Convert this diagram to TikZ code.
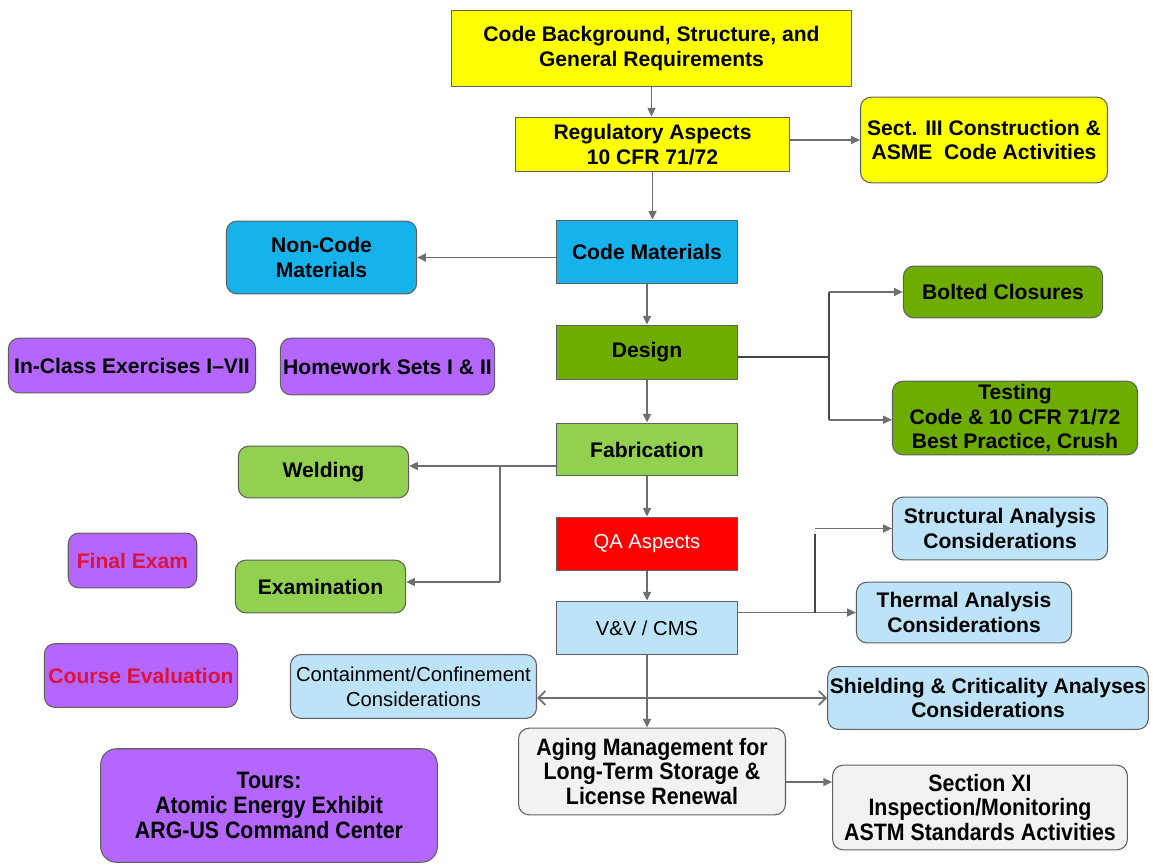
\documentclass[tikz,border=0pt]{standalone}
\usepackage{fontspec}
\setmainfont{Liberation Sans}
\newfontfamily\narrowfont[FakeStretch=0.9]{Liberation Sans}
\usetikzlibrary{arrows.meta}

\definecolor{boxline}{RGB}{95,95,95}
\definecolor{linkgray}{RGB}{110,110,110}
\definecolor{darkline}{RGB}{70,70,70}
\definecolor{codeyellow}{RGB}{255,255,0}
\definecolor{codecyan}{RGB}{22,178,236}
\definecolor{designgreen}{RGB}{110,172,0}
\definecolor{fabgreen}{RGB}{146,208,80}
\definecolor{qared}{RGB}{255,0,0}
\definecolor{analysisblue}{RGB}{189,227,248}
\definecolor{coursepurple}{RGB}{180,102,255}
\definecolor{agegray}{RGB}{242,242,242}
\definecolor{examred}{RGB}{220,20,60}

\begin{document}
\begin{tikzpicture}[
  x=0.02cm, y=-0.02cm,
  box/.style={draw=boxline, line width=0.6pt, align=center, inner sep=0pt,
    font=\bfseries\fontsize{12}{14}\selectfont},
  rbox/.style={box, rounded corners=6pt},
  sz/.style 2 args={minimum width=#1*0.5669pt, minimum height=#2*0.5669pt},
  thin/.style={font=\fontsize{11.5}{14}\selectfont},
  tall/.style={font=\narrowfont\bfseries\fontsize{13.5}{14}\selectfont},
  link/.style={draw=linkgray, line width=1pt, -{Triangle[length=5pt,width=4.5pt]}},
  branch/.style={draw=darkline, line width=1.5pt},
  twoway/.style={draw=linkgray, line width=1pt,
    {Straight Barb[length=4pt,width=8pt]}-{Straight Barb[length=4pt,width=8pt]}}
]
\useasboundingbox (0,0) rectangle (1153,865);

% Main column
\node[box, sz={401}{77}, fill=codeyellow] (CodeBg) at (651.5,48.5) {Code Background, Structure, and\\General Requirements};
\node[box, sz={275}{55}, fill=codeyellow] (Reg) at (652.5,144.5) {Regulatory Aspects\\10 CFR 71/72};
\node[box, sz={182}{64}, fill=codecyan] (CodeMat) at (647,252) {Code Materials};
\node[box, sz={182}{55}, fill=designgreen] (Design) at (647,352.5) {Design};
\node[box, sz={182}{53}, fill=fabgreen] (Fabrication) at (647,449.5) {Fabrication};
\node[box, thin, sz={182}{54}, fill=qared, text=white] (QA) at (647,544) {QA Aspects};
\node[box, thin, sz={182}{54}, fill=analysisblue] (VV) at (647,628) {V\&V / CMS};
\node[rbox, tall, sz={268}{87}, fill=agegray] (Aging) at (652,771.5) {Aging Management for\\Long-Term Storage \&\\License Renewal};

% Side topics
\node[rbox, sz={248}{86}, fill=codeyellow] (SectIII) at (984,140) {Sect. III Construction \&\\ASME\ \ Code Activities};
\node[rbox, sz={191}{73}, fill=codecyan] (NonCode) at (321.5,257.5) {Non-Code\\Materials};
\node[rbox, sz={200}{52}, fill=designgreen] (Bolted) at (1003,292) {Bolted Closures};
\node[rbox, sz={246}{74}, fill=designgreen] (Testing) at (1015,418) {Testing\\Code \& 10 CFR 71/72\\Best Practice, Crush};
\node[rbox, sz={171}{52}, fill=fabgreen] (Welding) at (323.5,472) {Welding};
\node[rbox, sz={171}{53}, fill=fabgreen] (Examination) at (320.5,586.5) {Examination};
\node[rbox, sz={216}{63}, fill=analysisblue] (Structural) at (1000,528.5) {Structural Analysis\\Considerations};
\node[rbox, sz={216}{61}, fill=analysisblue] (Thermal) at (964,612.5) {Thermal Analysis\\Considerations};
\node[rbox, sz={322}{63}, fill=analysisblue] (Shielding) at (988,698) {Shielding \& Criticality Analyses\\Considerations};
\node[rbox, thin, sz={247}{64}, fill=analysisblue] (Containment) at (413.5,686.5) {Containment/Confinement\\Considerations};
\node[rbox, tall, sz={296}{85}, fill=agegray] (SectionXI) at (980,807.5) {Section XI\\Inspection/Monitoring\\ASTM Standards Activities};

% Course work
\node[rbox, sz={248}{55}, fill=coursepurple] (InClass) at (132,365.5) {In-Class Exercises I--VII};
\node[rbox, sz={215}{57}, fill=coursepurple] (Homework) at (387.5,366.5) {Homework Sets I \& II};
\node[rbox, sz={129}{55}, fill=coursepurple, text=examred] (FinalExam) at (132.5,560.5) {Final Exam};
\node[rbox, sz={194}{64}, fill=coursepurple, text=examred] (CourseEval) at (141,675.5) {Course Evaluation};
\node[rbox, tall, sz={338}{114}, fill=coursepurple, rounded corners=9pt] (Tours) at (269,805.5) {Tours:\\Atomic Energy Exhibit\\ARG-US Command Center};

% Main column arrows
\draw[link] (CodeBg.south |- Reg.north) ++(0,-30) -- ++(0,30);
\draw[link] (Reg.south) -- (Reg.south |- CodeMat.north);
\draw[link] (CodeMat) -- (Design);
\draw[link] (Design) -- (Fabrication);
\draw[link] (Fabrication) -- (QA);
\draw[link] (QA) -- (VV);
\draw[twoway] (Containment.east |- Shielding.west) -- (Shielding.west);
\draw[link] (VV.south) -- (VV.south |- Aging.north);

% Side arrows
\draw[link] (Reg.east |- SectIII.west) -- (SectIII.west);
\draw[link] (CodeMat.west |- NonCode.east) -- (NonCode.east);
\draw[link] ([yshift=-6pt]Aging.east) -- ([yshift=-6pt]Aging.east -| SectionXI.west);

% Design splits
\coordinate (dsplit) at (829,357);
\draw[branch] (Design.east |- dsplit) -- (dsplit);
\draw[branch] (Bolted.west -| dsplit) -- ([yshift=-1pt]Testing.west -| dsplit);
\draw[link] (Bolted.west -| dsplit) -- (Bolted.west);
\draw[link] ([yshift=-1pt]Testing.west -| dsplit) -- ([yshift=-1pt]Testing.west);

% Fabrication splits
\coordinate (fsplit) at (500,466);
\draw[link] (Fabrication.west |- fsplit) -- (Welding.east |- fsplit);
\draw[draw=linkgray, line width=1pt] (fsplit) -- (fsplit |- 0,582);
\draw[link] (fsplit |- 0,582) -- (Examination.east |- 0,582);

% V&V splits
\coordinate (vsplit) at (815,0);
\draw[link] (VV.east |- Thermal.west) -- (Thermal.west);
\draw[branch] ([yshift=-3pt]vsplit |- Structural.west) -- (vsplit |- Thermal.west);
\draw[link] (vsplit |- Structural.west) -- (Structural.west);

\end{tikzpicture}
\end{document}
